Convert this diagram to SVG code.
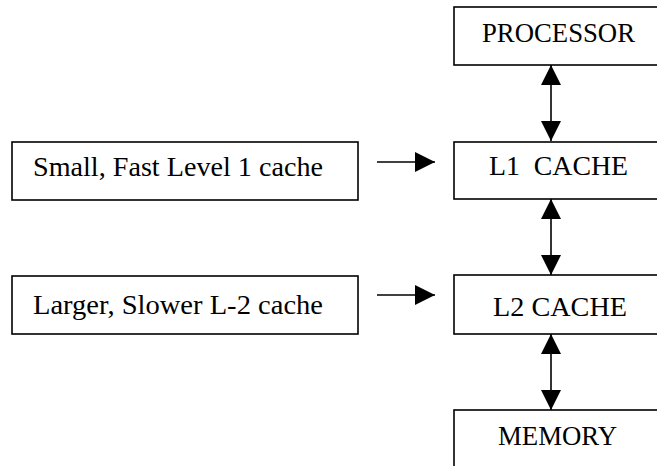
<svg xmlns="http://www.w3.org/2000/svg" width="657" height="466" viewBox="0 0 657 466">
  <style>
    .box { fill: #fff; stroke: #000; stroke-width: 1.6; }
    .lbl { font-family: "Liberation Serif", "Times New Roman", serif; font-size: 28px; fill: #000; white-space: pre; }
    .conn { stroke: #000; stroke-width: 1.6; fill: none; }
  </style>
  <defs>
    <marker id="head" viewBox="0 0 20 20" refX="20" refY="10" markerWidth="20" markerHeight="20" markerUnits="userSpaceOnUse" orient="auto-start-reverse">
      <path d="M0,0 L20,10 L0,20 z" fill="#000"/>
    </marker>
  </defs>
  <rect width="657" height="466" fill="#fff"/>

  <g id="processor">
    <rect class="box" x="454" y="7" width="210" height="58"/>
    <text class="lbl" x="482" y="42" textLength="153" lengthAdjust="spacingAndGlyphs">PROCESSOR</text>
  </g>
  <g id="l1cache">
    <rect class="box" x="454" y="142" width="210" height="57"/>
    <text class="lbl" x="489" y="175" textLength="139" lengthAdjust="spacingAndGlyphs" xml:space="preserve">L1  CACHE</text>
  </g>
  <g id="l2cache">
    <rect class="box" x="454" y="275" width="210" height="59"/>
    <text class="lbl" x="493" y="316" textLength="134" lengthAdjust="spacingAndGlyphs">L2 CACHE</text>
  </g>
  <g id="memory">
    <rect class="box" x="454" y="410" width="210" height="70"/>
    <text class="lbl" x="498" y="445" textLength="119" lengthAdjust="spacingAndGlyphs">MEMORY</text>
  </g>
  <g id="small-fast">
    <rect class="box" x="12" y="142" width="346" height="58"/>
    <text class="lbl" x="33" y="176" textLength="290" lengthAdjust="spacingAndGlyphs">Small, Fast Level 1 cache</text>
  </g>
  <g id="larger-slower">
    <rect class="box" x="12" y="276" width="346" height="58"/>
    <text class="lbl" x="33" y="314" textLength="290" lengthAdjust="spacingAndGlyphs">Larger, Slower L-2 cache</text>
  </g>

  <g id="connectors">
    <line class="conn" x1="551" y1="141" x2="551" y2="65" marker-start="url(#head)" marker-end="url(#head)"/>
    <line class="conn" x1="551" y1="275" x2="551" y2="199" marker-start="url(#head)" marker-end="url(#head)"/>
    <line class="conn" x1="551" y1="410" x2="551" y2="334" marker-start="url(#head)" marker-end="url(#head)"/>
    <line class="conn" x1="377" y1="162" x2="435" y2="162" marker-end="url(#head)"/>
    <line class="conn" x1="377" y1="295" x2="435" y2="295" marker-end="url(#head)"/>
  </g>
</svg>
